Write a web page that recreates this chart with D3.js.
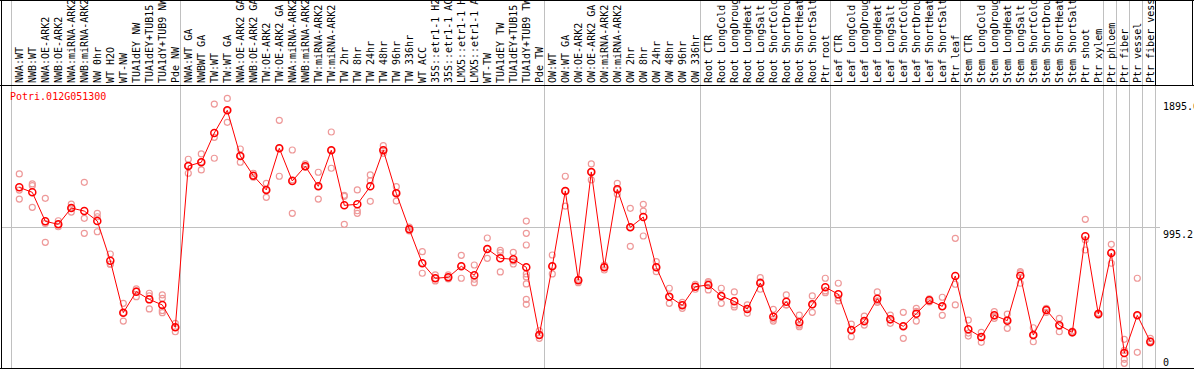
<!DOCTYPE html>
<html>
<head>
<meta charset="utf-8">
<script src="https://cdn.jsdelivr.net/npm/d3@7"></script>
<style>
body{margin:0;background:#fff;}
text{font-family:"DejaVu Sans Mono",monospace;font-size:10px;}
</style>
</head>
<body>
<div id="chart"></div>
<script>
var geneName="Potri.012G051300";

var samples=["NWA:WT","NWB:WT","NWA:OE-ARK2","NWB:OE-ARK2","NWA:miRNA-ARK2","NWB:miRNA-ARK2","NW 0hr","WT H2O","WT-NW","TUA1dEY NW",
"TUA1dEY+TUB15 NW","TUA1dY+TUB9 NW","Pde NW","NWA:WT GA","NWBWT GA","TW:WT","TW:WT GA","NWA:OE-ARK2 GA","NWB:OE-ARK2 GA","TW:OE-ARK2",
"TW:OE-ARK2 GA","NWA:miRNA-ARK2 GA","NWB:miRNA-ARK2 GA","TW:miRNA-ARK2","TW:miRNA-ARK2 GA","TW 2hr","TW 8hr","TW 24hr","TW 48hr","TW 96hr",
"TW 336hr","WT ACC","35S::etr1-1 H2O","35S::etr1-1 ACC","LMX5::etr1-1 H2O","LMX5::etr1-1 ACC","WT-TW","TUA1dEY TW","TUA1dEY+TUB15 TW","TUA1dY+TUB9 TW",
"Pde TW","OW:WT","OW:WT GA","OW:OE-ARK2","OW:OE-ARK2 GA","OW:miRNA-ARK2","OW:miRNA-ARK2 GA","OW 2hr","OW 8hr","OW 24hr",
"OW 48hr","OW 96hr","OW 336hr","Root CTR","Root LongCold","Root LongDrought","Root LongHeat","Root LongSalt","Root ShortCold","Root ShortDrought",
"Root ShortHeat","Root ShortSalt","Ptr root","Leaf CTR","Leaf LongCold","Leaf LongDrought","Leaf LongHeat","Leaf LongSalt","Leaf ShortCold","Leaf ShortDrought",
"Leaf ShortHeat","Leaf ShortSalt","Ptr leaf","Stem CTR","Stem LongCold","Stem LongDrought","Stem LongHeat","Stem LongSalt","Stem ShortCold","Stem ShortDrought",
"Stem ShortHeat","Stem ShortSalt","Ptr shoot","Ptr xylem","Ptr phloem","Ptr fiber","Ptr vessel","Ptr fiber vessel"];

// mean expression per sample
var means=[1273,1238,1035,1014,1128,1107,1037,759,395,542,
488,449,292,1423,1449,1654,1813,1493,1355,1255,
1547,1318,1421,1280,1533,1147,1154,1280,1533,1231,
979,741,636,643,720,657,841,776,769,713,
238,720,1248,622,1381,713,1259,993,1065,713,
507,446,577,589,512,474,421,603,367,472,
327,453,573,524,273,336,493,348,299,388,
481,439,652,278,224,376,339,654,238,414,
306,257,930,385,813,112,376,191];

// replicate values per sample
var reps=[[1367,1254,1191],[1297,1285,1133],[1196,888,1020],[1039,997,1014],[1156,1100,1128],
[1308,1056,951],[1091,1067,962],[806,736,735],[460,336,394],[561,507,547],
[531,421,512],[519,495,395,410],[320,261,292],[1470,1372,1423],[1507,1395,1451],
[1857,1624,1477],[1896,1729,1813],[1542,1449,1493],[1372,1344,1355],[1301,1203,1255],
[1743,1351,1547],[1535,1091,1325],[1437,1414,1421],[1379,1191,1280],[1661,1407,1533],
[1217,1014,1210],[1255,1109,1091],[1360,1320,1175],[1565,1512,1535],[1278,1177,1235],
[995,967,979],[822,671,743],[659,617,636],[659,631,643],[797,636,722],
[729,605,629],[918,776,841],[832,680,816],[818,736,757],[1037,951,869,666,645,596,488,453],
[268,215,238],[799,666,722],[1351,1142,1248],[629,605,624],[1437,1325,1381],
[729,694,715],[1301,1226,1255],[1126,860,993],[1154,1107,932],[752,682,715],
[566,460,505],[467,425,449],[594,559,575],[612,554,603],[566,460,512],
[540,449,435],[449,390,421],[640,559,610],[418,336,350],[519,449,449],
[378,296,308],[512,397,449],[636,535,547],[601,477,498],[315,226,275],
[371,308,329],[540,467,477],[378,320,343],[397,215,301],[425,336,404],
[491,470,484],[503,376,438],[916,594,449],[343,231,252],[257,187,224],
[402,355,371],[385,285,343],[682,601,673],[289,191,238],[425,397,414],
[355,261,301],[266,252,259],[1049,834,904],[392,378,385],[874,741,820],
[208,130,68,40],[636,117,376],[215,182,196]];

// sample index after which a group separator is drawn
var groupEnds=[-1,12,40,52,62,72,83,84,85,86,87];
var yTicks=[1895.6,995.2,0];
var yGrid=[995.2];

var width=1194, height=370;
var labelBottom=85, plotBottom=369;

var svg=d3.select("#chart").append("svg")
    .attr("width",width)
    .attr("height",height);

var x=d3.scaleLinear().domain([0,samples.length-1]).range([19.3,1150.3]);
var y=d3.scaleLinear().domain([0,1990.4]).range([plotBottom,labelBottom]);

// horizontal grid
svg.selectAll(".hgrid").data(yGrid).enter().append("line")
    .attr("x1",1.5).attr("x2",1160)
    .attr("y1",function(d){return Math.round(y(d))+0.5;})
    .attr("y2",function(d){return Math.round(y(d))+0.5;})
    .style("stroke","#c0c0c0").style("stroke-width",1);

// group separators
svg.selectAll(".vgrid").data(groupEnds).enter().append("line")
    .attr("x1",function(d){return Math.round(x(d)+5)+0.5;})
    .attr("x2",function(d){return Math.round(x(d)+5)+0.5;})
    .attr("y1",0).attr("y2",plotBottom)
    .style("stroke","#c0c0c0").style("stroke-width",1);

// frame
var lastSep=Math.round(x(groupEnds[groupEnds.length-1])+5)+0.5;
var frame=[[0,0.5,width,0.5],[0,labelBottom+0.5,width,labelBottom+0.5],[0,plotBottom-0.5,width,plotBottom-0.5],
    [1.5,0,1.5,plotBottom],[lastSep,0,lastSep,labelBottom],[width-1.5,0,width-1.5,labelBottom]];
svg.selectAll(".frame").data(frame).enter().append("line")
    .attr("x1",function(d){return d[0];}).attr("y1",function(d){return d[1];})
    .attr("x2",function(d){return d[2];}).attr("y2",function(d){return d[3];})
    .style("stroke","#000").style("stroke-width",1);

// sample labels
svg.selectAll(".lab").data(samples).enter().append("text")
    .attr("transform",function(d,i){return "translate("+(x(i)+3.5)+","+(labelBottom-2)+") rotate(-90)";})
    .style("fill","#000")
    .text(function(d){return d;});

// replicates
var repPts=[];
reps.forEach(function(r,i){r.forEach(function(v){repPts.push([i,v]);});});
svg.selectAll(".rep").data(repPts).enter().append("circle")
    .attr("cx",function(d){return x(d[0]);})
    .attr("cy",function(d){return y(d[1]);})
    .attr("r",3)
    .style("fill","none")
    .style("stroke","#ee9999")
    .style("stroke-width",1.2);

// mean line
var line=d3.line().x(function(d,i){return x(i);}).y(function(d){return y(d);});
svg.append("path").datum(means)
    .attr("d",line)
    .style("fill","none")
    .style("stroke","#ff0000")
    .style("stroke-width",1);

svg.selectAll(".mean").data(means).enter().append("circle")
    .attr("cx",function(d,i){return x(i);})
    .attr("cy",function(d){return y(d);})
    .attr("r",3.5)
    .style("fill","none")
    .style("stroke","#ff0000")
    .style("stroke-width",1.5);

// y tick labels on the right
svg.selectAll(".ytick").data(yTicks).enter().append("text")
    .attr("x",1163)
    .attr("y",function(d){return Math.min(y(d)+11,366);})
    .style("fill","#000")
    .text(function(d){return d;});

svg.append("text")
    .attr("x",10).attr("y",100)
    .style("fill","#ff0000")
    .text(geneName);
</script>
</body>
</html>
